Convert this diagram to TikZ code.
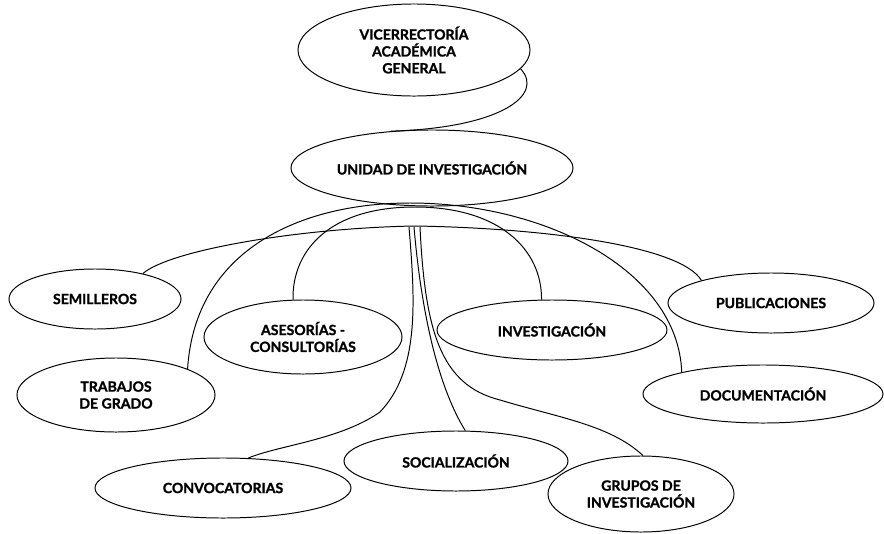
\documentclass[tikz,border=0pt]{standalone}
\usepackage{fontspec}
\setmainfont{Lato}[BoldFeatures={FakeBold=1.2}]
\usetikzlibrary{shapes.geometric}
\tikzset{
  unit/.style={draw, ellipse, inner sep=0pt, align=center, font=\bfseries},
}
\begin{document}
\begin{tikzpicture}[x=0.025cm, y=-0.025cm, line width=0.7pt]
  \useasboundingbox (0,0) rectangle (884,534);
  \node[unit, minimum width=5.8cm, minimum height=2.3cm] (vice) at (414,50) {VICERRECTORÍA\\ACADÉMICA\\GENERAL};
  \node[unit, minimum width=7.05cm, minimum height=1.9cm] (unidad) at (432,168) {UNIDAD DE INVESTIGACIÓN};
  \node[unit, minimum width=4.3cm, minimum height=1.5cm] (semilleros) at (95,299) {SEMILLEROS};
  \node[unit, minimum width=4.95cm, minimum height=1.85cm] (asesorias) at (303,337) {ASESORÍAS -\\CONSULTORÍAS};
  \node[unit, minimum width=5.75cm, minimum height=1.5cm] (investigacion) at (552,330) {INVESTIGACIÓN};
  \node[unit, minimum width=5.15cm, minimum height=1.5cm] (publicaciones) at (771,303) {PUBLICACIONES};
  \node[unit, minimum width=4.95cm, minimum height=1.85cm] (trabajos) at (116,395) {TRABAJOS\\DE GRADO};
  \node[unit, minimum width=6.0cm, minimum height=1.45cm] (documentacion) at (763,394) {DOCUMENTACIÓN};
  \node[unit, minimum width=6.4cm, minimum height=1.5cm] (convocatorias) at (223,488) {CONVOCATORIAS};
  \node[unit, minimum width=5.6cm, minimum height=1.5cm] (socializacion) at (456,461) {SOCIALIZACIÓN};
  \node[unit, minimum width=4.65cm, minimum height=1.9cm] (grupos) at (641,494) {GRUPOS DE\\INVESTIGACIÓN};
  % branch points under the unit
  \coordinate (hubA) at (410,203);
  \coordinate (hubB) at (415,207);
  \coordinate (hubC) at (415,226);
  \coordinate (hubD1) at (409,227);
  \coordinate (hubD2) at (414,227);
  \coordinate (hubD3) at (420,227);
  \draw (vice.-10) .. controls (545,95) and (500,128) .. (unidad.138);
  \draw (hubA) .. controls (300,203) and (195,250) .. (trabajos.20);
  \draw (hubA) .. controls (545,203) and (678,270) .. (documentacion.165);
  \draw (hubB) .. controls (330,207) and (292,250) .. (asesorias.105);
  \draw (hubB) .. controls (500,207) and (542,250) .. (investigacion.109);
  \draw (hubC) .. controls (300,228) and (170,250) .. (semilleros.28);
  \draw (hubC) .. controls (540,228) and (680,245) .. (publicaciones.162);
  \draw (hubD1) .. controls (415,300) and (420,370) .. (380,412) .. controls (340,440) and (280,445) .. (convocatorias.50);
  \draw (hubD2) .. controls (422,320) and (440,390) .. (socializacion.73);
  \draw (hubD3) .. controls (425,330) and (440,385) .. (500,400) .. controls (560,418) and (610,425) .. (grupos.87);
\end{tikzpicture}
\end{document}
